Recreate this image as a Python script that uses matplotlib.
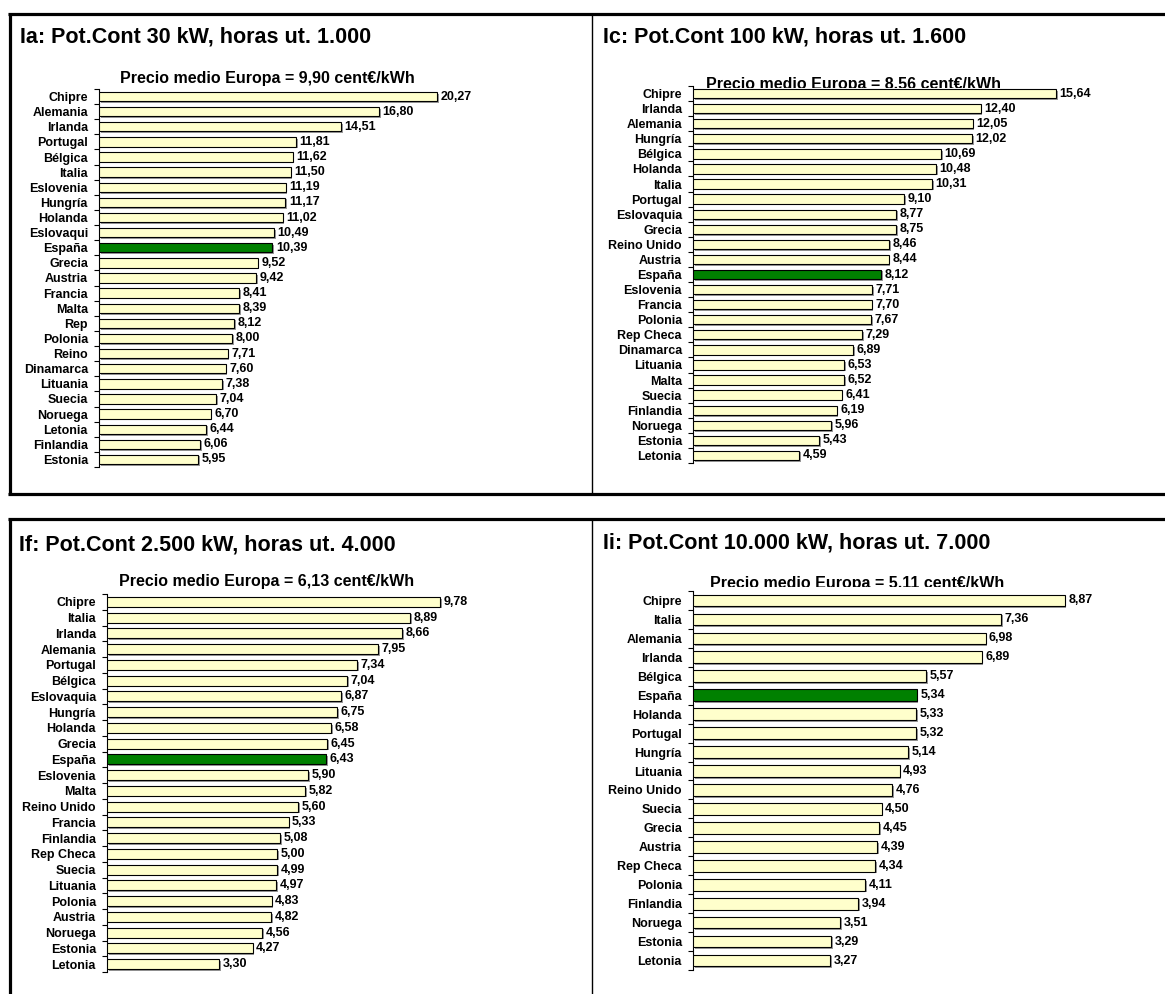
import matplotlib
matplotlib.use("Agg")
import matplotlib.pyplot as plt
from matplotlib.lines import Line2D
from matplotlib.patches import Rectangle
import matplotlib.patheffects as pe

plt.rcParams['font.family'] = ['Liberation Sans', 'DejaVu Sans']

W, H = 1165, 994

# ---------------- data ----------------
titles = [
    "Ia: Pot.Cont 30 kW, horas ut. 1.000",
    "Ic: Pot.Cont 100 kW, horas ut. 1.600",
    "If: Pot.Cont 2.500 kW, horas ut. 4.000",
    "Ii: Pot.Cont 10.000 kW, horas ut. 7.000",
]
subtitles = [
    "Precio medio Europa = 9,90 cent€/kWh",
    "Precio medio Europa = 8,56 cent€/kWh",
    "Precio medio Europa = 6,13 cent€/kWh",
    "Precio medio Europa = 5,11 cent€/kWh",
]

countries_a = ["Chipre", "Alemania", "Irlanda", "Portugal", "Bélgica", "Italia",
               "Eslovenia", "Hungría", "Holanda", "Eslovaqui", "España", "Grecia",
               "Austria", "Francia", "Malta", "Rep", "Polonia", "Reino",
               "Dinamarca", "Lituania", "Suecia", "Noruega", "Letonia",
               "Finlandia", "Estonia"]
values_a = [20.27, 16.80, 14.51, 11.81, 11.62, 11.50, 11.19, 11.17, 11.02, 10.49,
            10.39, 9.52, 9.42, 8.41, 8.39, 8.12, 8.00, 7.71, 7.60, 7.38, 7.04,
            6.70, 6.44, 6.06, 5.95]

countries_c = ["Chipre", "Irlanda", "Alemania", "Hungría", "Bélgica", "Holanda",
               "Italia", "Portugal", "Eslovaquia", "Grecia", "Reino Unido",
               "Austria", "España", "Eslovenia", "Francia", "Polonia",
               "Rep Checa", "Dinamarca", "Lituania", "Malta", "Suecia",
               "Finlandia", "Noruega", "Estonia", "Letonia"]
values_c = [15.64, 12.40, 12.05, 12.02, 10.69, 10.48, 10.31, 9.10, 8.77, 8.75,
            8.46, 8.44, 8.12, 7.71, 7.70, 7.67, 7.29, 6.89, 6.53, 6.52, 6.41,
            6.19, 5.96, 5.43, 4.59]

countries_f = ["Chipre", "Italia", "Irlanda", "Alemania", "Portugal", "Bélgica",
               "Eslovaquia", "Hungría", "Holanda", "Grecia", "España",
               "Eslovenia", "Malta", "Reino Unido", "Francia", "Finlandia",
               "Rep Checa", "Suecia", "Lituania", "Polonia", "Austria",
               "Noruega", "Estonia", "Letonia"]
values_f = [9.78, 8.89, 8.66, 7.95, 7.34, 7.04, 6.87, 6.75, 6.58, 6.45, 6.43,
            5.90, 5.82, 5.60, 5.33, 5.08, 5.00, 4.99, 4.97, 4.83, 4.82, 4.56,
            4.27, 3.30]

countries_i = ["Chipre", "Italia", "Alemania", "Irlanda", "Bélgica", "España",
               "Holanda", "Portugal", "Hungría", "Lituania", "Reino Unido",
               "Suecia", "Grecia", "Austria", "Rep Checa", "Polonia",
               "Finlandia", "Noruega", "Estonia", "Letonia"]
values_i = [8.87, 7.36, 6.98, 6.89, 5.57, 5.34, 5.33, 5.32, 5.14, 4.93, 4.76,
            4.50, 4.45, 4.39, 4.34, 4.11, 3.94, 3.51, 3.29, 3.27]

highlight = "España"
x_max = [25, 20, 12, 11]

# ---------------- layout (pixels) ----------------
axes_px = [  # left, right, top, bottom
    (99, 516, 89, 467),
    (693, 1157, 86, 463),
    (107, 516, 594, 972),
    (693, 1154, 591, 970),
]
title_px = [(20, 43), (603, 43), (19, 550), (603, 548)]
sub_px = [(267, 83), (853, 88.5), (267, 586), (857, 588)]
clip_top = [None, 88, None, 587]   # plot-area top that overlaps the subtitle

fig = plt.figure(figsize=(W / 100, H / 100), dpi=100)
fig.patch.set_facecolor("white")

def fx(x):
    return x / W

def fy(y):
    return 1 - y / H

datasets = [(countries_a, values_a), (countries_c, values_c),
            (countries_f, values_f), (countries_i, values_i)]

for k, (cats, vals) in enumerate(datasets):
    l, r, t, b = axes_px[k]
    ax = fig.add_axes([fx(l), fy(b), (r - l) / W, (b - t) / H])
    ax.set_zorder(1)
    n = len(cats)
    ypos = list(range(n))
    colors = ["#008000" if c == highlight else "#FFFFCC" for c in cats]
    bars = ax.barh(ypos, vals, height=0.62, color=colors, edgecolor="black",
                   linewidth=0.8, zorder=3)
    for bar in bars:
        bar.set_path_effects([pe.SimplePatchShadow(offset=(1.2, -1.2),
                                                   shadow_rgbFace="#808080",
                                                   alpha=0.8),
                              pe.Normal()])
    labels = [f"{v:.2f}".replace(".", ",") for v in vals]
    ax.bar_label(bars, labels=labels, padding=2.5, fontsize=9,
                 fontweight="bold", color="black")
    ax.set_xlim(0, x_max[k])
    ax.set_ylim(n - 0.5, -0.5)
    ax.set_yticks(ypos)
    ax.set_yticklabels(cats, fontsize=9, fontweight="bold")
    ax.set_yticks([i - 0.5 for i in range(n + 1)], minor=True)
    ax.tick_params(axis="y", which="major", length=0, pad=8)
    ax.tick_params(axis="y", which="minor", length=3.5, width=0.8,
                   direction="out")
    ax.set_xticks([])
    for s in ("top", "right", "bottom"):
        ax.spines[s].set_visible(False)
    ax.spines["left"].set_linewidth(0.8)
    ax.patch.set_alpha(0)

    tx, ty = title_px[k]
    fig.text(fx(tx), fy(ty), titles[k], fontsize=15.5, fontweight="bold",
             ha="left", va="baseline", zorder=0)
    sx, sy = sub_px[k]
    fig.text(fx(sx), fy(sy), subtitles[k], fontsize=11.5, fontweight="bold",
             ha="center", va="baseline", zorder=0)
    if clip_top[k] is not None:
        ct = clip_top[k]
        fig.add_artist(Rectangle((fx(l + 1), fy(b)), (r - l) / W, (b - ct) / H,
                                 transform=fig.transFigure, facecolor="white",
                                 edgecolor="none", zorder=0.5))

# ---------------- frames ----------------
def hline(y, x0, x1, lw):
    fig.add_artist(Line2D([fx(x0), fx(x1)], [fy(y), fy(y)], color="black",
                          linewidth=lw, transform=fig.transFigure,
                          solid_capstyle="butt", zorder=5))

def vline(x, y0, y1, lw):
    fig.add_artist(Line2D([fx(x), fx(x)], [fy(y0), fy(y1)], color="black",
                          linewidth=lw, transform=fig.transFigure,
                          solid_capstyle="butt", zorder=5))

thick, thin = 2.3, 1.0
hline(14, 8, W, thick)
hline(494, 8, W, thick)
vline(9.5, 13, 495, thick)
vline(592, 14, 494, thin)
hline(519, 8, W, thick)
vline(9.5, 518, H, thick)
vline(592, 519, H, thin)

fig.savefig("out.png", dpi=100, facecolor="white")
